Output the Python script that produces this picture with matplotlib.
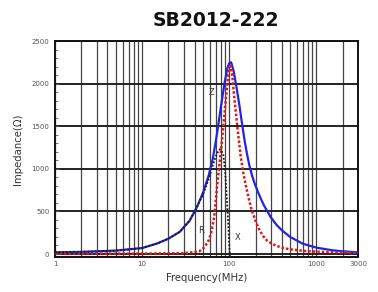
#!/usr/bin/env python3

'''impedance vs frequency chart for the SB2012-222 bead'''

import numpy as np
import matplotlib
matplotlib.use('Agg')
import matplotlib.pyplot as plt
from matplotlib.ticker import FixedLocator, NullFormatter, MultipleLocator

TITLE = 'SB2012-222'
XTICKS = [1, 10, 100, 1000, 3000]
XTICK_LABELS = ['1', '10', '100', '1000', '3000']
YTICKS = [0, 500, 1000, 1500, 2000, 2500]

# Z curve (blue)
z_freq = [1, 2, 5, 10, 15, 20, 27, 35, 42, 50, 58, 65, 72, 80, 88, 95, 100, 105,
          112, 120, 130, 140, 150, 160, 170, 185, 200, 215, 230, 250, 300, 350, 400,
          500, 700, 1000, 1500, 2000, 3000]
z_vals = [20, 25, 40, 70, 125, 180, 260, 390, 540, 720, 920, 1130, 1400, 1720, 2000,
          2180, 2240, 2250, 2150, 1980, 1760, 1530, 1330, 1170, 1040, 900, 800, 720,
          650, 570, 430, 340, 280, 200, 120, 75, 45, 32, 20]

# R curve (red)
r_freq = [1, 10, 30, 45, 52, 58, 62, 67, 73, 81, 90, 97, 103, 108, 115, 125, 135,
          145, 155, 170, 180, 200, 220, 245, 270, 310, 350, 420, 500, 800, 1500, 3000]
r_vals = [5, 5, 10, 30, 80, 160, 250, 430, 830, 1250, 1750, 2100, 2230, 2100, 1800,
          1450, 1150, 950, 800, 620, 520, 390, 290, 210, 160, 120, 95, 70, 55, 32, 22, 15]

# X curve (black dotted)
x_freq = [1, 2, 5, 10, 15, 20, 27, 35, 42, 50, 58, 65, 72, 78, 85, 90, 95, 100, 105, 115, 130]
x_vals = [20, 25, 40, 70, 125, 180, 260, 390, 540, 700, 880, 1050, 1180, 1230, 1180,
          950, 550, 100, -300, -800, -900]


def build():
    fig = plt.figure(figsize=(3.78, 2.92), dpi=100)
    ax = fig.add_axes([55/378, 1 - 257/292, 303/378, 216/292])
    ax.set_xscale('log')
    ax.set_xlim(1, 3000)
    ax.set_ylim(-35, 2500)

    # grid: every log step vertically, 500 steps horizontally
    ax.xaxis.set_major_locator(FixedLocator(XTICKS))
    ax.xaxis.set_minor_locator(FixedLocator([m * 10**d for d in range(4) for m in range(1, 10)
                                             if m * 10**d <= 3000]))
    ax.xaxis.set_minor_formatter(NullFormatter())
    ax.set_xticklabels(XTICK_LABELS)
    ax.set_yticks(YTICKS)
    ax.yaxis.set_minor_locator(MultipleLocator(100))
    ax.grid(True, which='both', axis='x', color='#444444', lw=0.9)
    ax.grid(True, which='major', axis='y', color='#222222', lw=1.4)
    ax.tick_params(axis='x', which='both', length=0, labelsize=5, colors='#555555', pad=3)
    ax.tick_params(axis='y', which='major', length=3, direction='in', labelsize=5,
                   colors='#555555', pad=4)
    ax.tick_params(axis='y', which='minor', length=2, direction='in', color='#555555')
    for s in ax.spines.values():
        s.set_linewidth(1.4)
        s.set_color('#111111')

    ax.plot(z_freq, z_vals, color='#2424e0', lw=1.6, zorder=3)
    ax.plot(r_freq, r_vals, color='#e01818', lw=1.8, ls=(0, (1, 0.8)), zorder=4)
    ax.plot(x_freq, x_vals, color='#1a1a1a', lw=1.3, ls=(0, (1, 1)), zorder=5)

    ax.text(63, 1900, 'Z', fontsize=6, color='#333333', ha='center', va='center')
    ax.text(47, 280, 'R', fontsize=6, color='#333333', ha='center', va='center')
    ax.text(126, 190, 'X', fontsize=6, color='#333333', ha='center', va='center')

    ax.set_xlabel('Frequency(MHz)', fontsize=7.3, color='#333333', labelpad=4)
    ax.set_ylabel('Impedance(\u03a9)', fontsize=7.3, color='#333333', labelpad=6)
    fig.text(216/378, 1 - 20/292, TITLE, fontsize=13.5, fontweight='bold',
             ha='center', va='center', color='#111111')

    fig.savefig('out.png', dpi=100)
    plt.close()


if __name__ == '__main__':
    build()
